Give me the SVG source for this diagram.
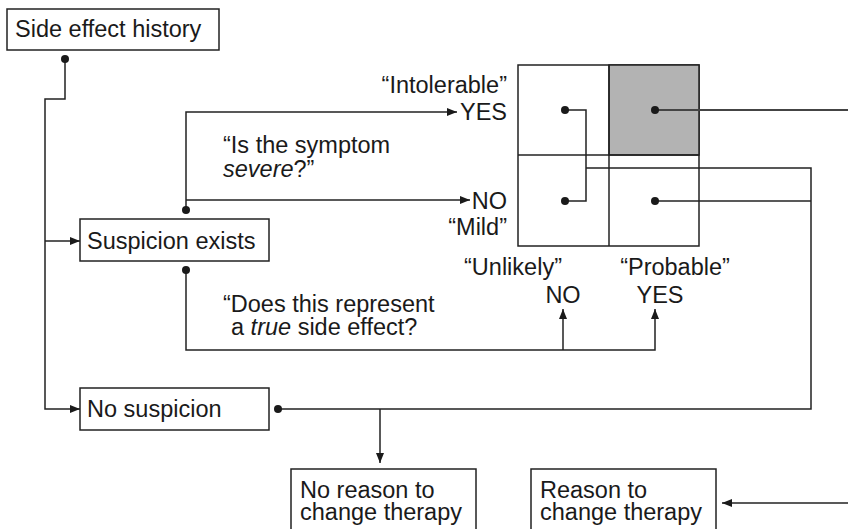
<svg xmlns="http://www.w3.org/2000/svg" width="848" height="529" viewBox="0 0 848 529">
<style>
text{font-family:"Liberation Sans",Arial,sans-serif;font-size:23.5px;fill:#1a1a1a}
.box{fill:#fff;stroke:#222;stroke-width:1.5}
.ln{fill:none;stroke:#222;stroke-width:1.5}
.dot{fill:#1a1a1a}
.it{font-style:italic}
</style>
<defs>
<marker id="ah" viewBox="0 0 10 8" refX="10" refY="4" markerWidth="10" markerHeight="8" markerUnits="userSpaceOnUse" orient="auto">
<path d="M0,0 L10,4 L0,8 z" fill="#1a1a1a"/>
</marker>
</defs>
<rect width="848" height="529" fill="#fff"/>

<g id="grid">
<rect x="518" y="65" width="181" height="181" fill="#fff" stroke="#222" stroke-width="1.5"/>
<rect x="609" y="65" width="90" height="90" fill="#b3b3b3" stroke="#222" stroke-width="1.5"/>
<line x1="609" y1="65" x2="609" y2="246" class="ln"/>
<line x1="518" y1="155" x2="699" y2="155" class="ln"/>
</g>

<g id="connectors">
<path class="ln" d="M65,59 V99 H45 V409 H80" marker-end="url(#ah)"/>
<path class="ln" d="M45,241 H80" marker-end="url(#ah)"/>
<path class="ln" d="M186,210 V112 H457" marker-end="url(#ah)"/>
<path class="ln" d="M186,200 H470" marker-end="url(#ah)"/>
<path class="ln" d="M186,270 V350 H655 V309" marker-end="url(#ah)"/>
<path class="ln" d="M563,350 V309" marker-end="url(#ah)"/>
<path class="ln" d="M565,110 H586 V201 H565"/>
<path class="ln" d="M586,168 H811 V409 H278"/>
<path class="ln" d="M655,201 H811"/>
<path class="ln" d="M380,409 V463" marker-end="url(#ah)"/>
<path class="ln" d="M655,110 H848" style="stroke:#444;stroke-width:2"/>
<path class="ln" d="M848,503 H722" marker-end="url(#ah)"/>
<circle class="dot" cx="65" cy="59" r="4"/>
<circle class="dot" cx="186" cy="210" r="4"/>
<circle class="dot" cx="186" cy="270" r="4"/>
<circle class="dot" cx="565" cy="110" r="4"/>
<circle class="dot" cx="565" cy="201" r="4"/>
<circle class="dot" cx="655" cy="110" r="4"/>
<circle class="dot" cx="655" cy="201" r="4"/>
<circle class="dot" cx="278" cy="409" r="4"/>
</g>

<g id="labels">
<text x="507" y="93" text-anchor="end">“Intolerable”</text>
<text x="507" y="120" text-anchor="end">YES</text>
<text x="507" y="209" text-anchor="end">NO</text>
<text x="507" y="235" text-anchor="end">“Mild”</text>
<text x="223" y="153">“Is the symptom<tspan x="223" y="177"><tspan class="it">severe</tspan>?”</tspan></text>
<text x="513" y="275" text-anchor="middle">“Unlikely”</text>
<text x="675" y="275" text-anchor="middle">“Probable”</text>
<text x="563" y="303" text-anchor="middle">NO</text>
<text x="660" y="303" text-anchor="middle">YES</text>
<text x="223" y="312">“Does this represent<tspan x="231" y="335">a <tspan class="it">true</tspan> side effect?</tspan></text>
</g>

<g id="side-effect-history">
<rect class="box" x="7" y="9" width="212" height="41"/>
<text x="15" y="37">Side effect history</text>
</g>
<g id="suspicion-exists">
<rect class="box" x="80" y="219" width="189" height="42"/>
<text x="87" y="249">Suspicion exists</text>
</g>
<g id="no-suspicion">
<rect class="box" x="80" y="388" width="189" height="42"/>
<text x="87" y="417">No suspicion</text>
</g>
<g id="no-reason">
<rect class="box" x="291" y="469" width="185" height="70"/>
<text x="300" y="498">No reason to<tspan x="300" y="520">change therapy</tspan></text>
</g>
<g id="reason">
<rect class="box" x="531" y="469" width="185" height="70"/>
<text x="540" y="498">Reason to<tspan x="540" y="520">change therapy</tspan></text>
</g>
</svg>
